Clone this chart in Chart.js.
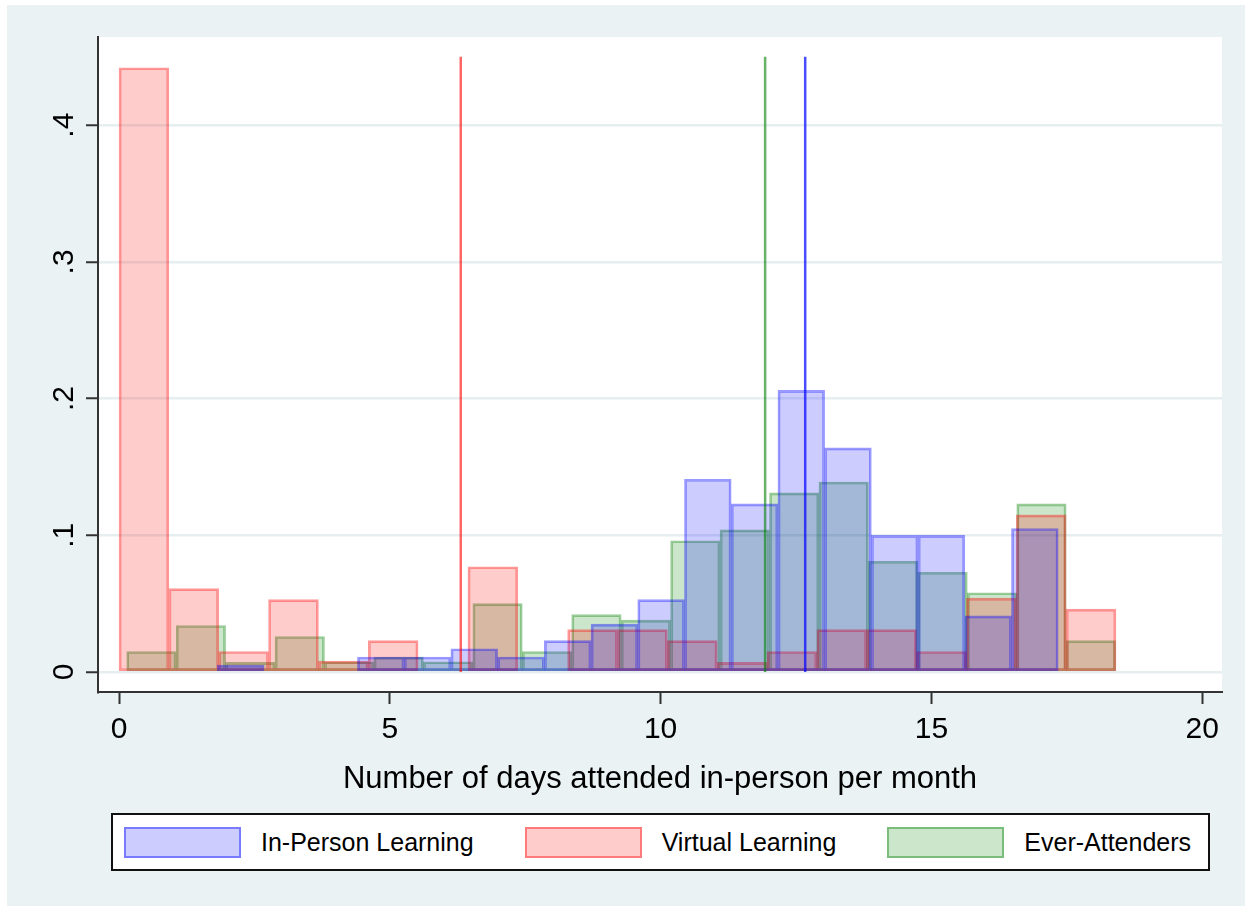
<!DOCTYPE html>
<html>
<head>
<meta charset="utf-8">
<script src="https://cdn.jsdelivr.net/npm/chart.js@4.4.1/dist/chart.umd.min.js"></script>
<style>
html,body{margin:0;padding:0;background:#fff;width:1252px;height:913px;overflow:hidden;font-family:"Liberation Sans",Arial,sans-serif;}
#bg{position:absolute;left:7px;top:5px;width:1238px;height:901px;background:#eaf2f3;}
#c{position:absolute;left:0;top:0;}
#legend{position:absolute;left:111px;top:813px;width:1084px;height:54px;padding-left:11px;border:2px solid #111;background:#fff;display:flex;align-items:center;}
.item{display:flex;align-items:center;margin-right:51px;}
.sw{width:113px;height:27px;border:2px solid;margin-right:20px;}
.lbl{font-size:25px;color:#000;white-space:nowrap;}
</style>
</head>
<body>
<div id="bg"></div>
<canvas id="c" width="1252" height="913"></canvas>
<div id="legend"></div>
<script>
// ---- data ----
const xTickLabels = ['0', '5', '10', '15', '20'];
const yTickLabels = ['0', '.1', '.2', '.3', '.4'];
const seriesLabels = ['In-Person Learning', 'Virtual Learning', 'Ever-Attenders'];
const xTitle = 'Number of days attended in-person per month';

// In-Person Learning histogram (bin start, bin width, densities)
const inPersonStart = 1.815;
const inPersonWidth = 0.8626;
const inPerson = [0.005, 0, 0, 0.011, 0.011, 0.017, 0.011, 0.023, 0.035, 0.053,
                  0.141, 0.123, 0.206, 0.164, 0.100, 0.100, 0.041, 0.105];

// Virtual Learning histogram
const virtualStart = 0;
const virtualWidth = 0.9204;
const virtual = [0.442, 0.061, 0.015, 0.053, 0.008, 0.023, 0, 0.077, 0, 0.031,
                 0.031, 0.023, 0.007, 0.015, 0.031, 0.031, 0.015, 0.054, 0.115, 0.046];

// Ever-Attenders histogram
const everStart = 0.142;
const everWidth = 0.913;
const ever = [0.015, 0.034, 0.007, 0.026, 0.0075, 0.011, 0.0075, 0.050, 0.015, 0.042,
              0.038, 0.096, 0.104, 0.131, 0.139, 0.081, 0.073, 0.058, 0.123, 0.023];

// Mean lines: in-person, virtual, ever-attenders
const meanValues = [12.67, 6.31, 11.93];
const meanLineTop = 0.45;

// ---- styles ----
const fills = ['rgba(0,0,255,0.2)', 'rgba(255,0,0,0.2)', 'rgba(0,128,0,0.2)'];
const edges = ['rgba(0,0,255,0.4)', 'rgba(255,0,0,0.4)', 'rgba(0,128,0,0.4)'];
const meanColors = ['rgba(0,0,255,0.7)', 'rgba(255,0,0,0.6)', 'rgba(0,128,0,0.6)'];

function binPoints(start, width, vals) {
  return vals.map((v, i) => ({ x: start + (i + 0.5) * width, y: v }));
}

const histSets = [
  { pts: binPoints(inPersonStart, inPersonWidth, inPerson), axis: 'xb' },
  { pts: binPoints(virtualStart, virtualWidth, virtual), axis: 'xr' },
  { pts: binPoints(everStart, everWidth, ever), axis: 'xg' }
];

const datasets = [];
meanValues.forEach((m, i) => {
  datasets.push({
    type: 'line',
    label: 'mean ' + seriesLabels[i],
    data: [{ x: m, y: 0 }, { x: m, y: meanLineTop }],
    borderColor: meanColors[i],
    borderWidth: 2.5,
    pointRadius: 0,
    xAxisID: 'x',
    yAxisID: 'y',
    order: 0
  });
});
histSets.forEach((h, i) => {
  datasets.push({
    type: 'bar',
    label: seriesLabels[i],
    data: h.pts,
    backgroundColor: fills[i],
    borderColor: edges[i],
    borderWidth: 2,
    borderSkipped: false,
    grouped: false,
    barPercentage: 1,
    categoryPercentage: 1,
    xAxisID: h.axis,
    yAxisID: 'y',
    order: 1
  });
});

const X_MIN = -0.388, X_MAX = 20.366;
const Y_MIN = -0.01463, Y_MAX = 0.46452;

function hiddenX() {
  return { type: 'linear', display: false, offset: false, grid: { offset: false },
           min: X_MIN, max: X_MAX,
           ticks: { stepSize: 5, includeBounds: false } };
}

const plotBg = {
  id: 'plotBg',
  beforeDraw(chart) {
    const { ctx, chartArea: a } = chart;
    ctx.save();
    ctx.fillStyle = '#ffffff';
    ctx.fillRect(a.left, a.top, a.right - a.left, a.bottom - a.top);
    ctx.restore();
  }
};

Chart.defaults.font.family = '"Liberation Sans", Arial, sans-serif';
Chart.defaults.color = '#000';

new Chart(document.getElementById('c'), {
  type: 'bar',
  data: { datasets },
  options: {
    responsive: false,
    animation: false,
    events: [],
    layout: { padding: { left: 0, top: 37, right: 30, bottom: 111 } },
    plugins: { legend: { display: false }, tooltip: { enabled: false } },
    scales: {
      x: {
        type: 'linear', position: 'bottom', min: X_MIN, max: X_MAX, offset: false,
        grid: { offset: false, drawOnChartArea: false, drawTicks: true, tickLength: 12, tickColor: '#333', tickWidth: 2 },
        border: { color: '#333', width: 2 },
        ticks: {
          stepSize: 5, includeBounds: false, padding: 8, maxRotation: 0,
          font: { size: 30 }, color: '#000',
          callback: (v) => { const i = Math.round(v / 5); return xTickLabels[i] !== undefined ? xTickLabels[i] : ''; }
        },
        title: { display: true, text: xTitle, font: { size: 31 }, color: '#000', padding: { top: 0, bottom: 4 } },
        afterFit: (s) => { s.height = 110; }
      },
      xb: hiddenX(),
      xr: hiddenX(),
      xg: hiddenX(),
      y: {
        type: 'linear', position: 'left', min: Y_MIN, max: Y_MAX,
        grid: { color: '#e6eef0', lineWidth: 2.5, tickColor: '#333', tickWidth: 2, tickLength: 12 },
        border: { color: '#333', width: 2 },
        ticks: {
          stepSize: 0.1, includeBounds: false, minRotation: 90, maxRotation: 90,
          crossAlign: 'center', padding: 9, font: { size: 30 }, color: '#000',
          callback: (v) => { const i = Math.round(v * 10); return yTickLabels[i] !== undefined ? yTickLabels[i] : ''; }
        },
        afterFit: (s) => { s.width = 98; }
      }
    }
  },
  plugins: [plotBg]
});

// HTML legend built from the series
const leg = document.getElementById('legend');
seriesLabels.forEach((lab, i) => {
  const it = document.createElement('div');
  it.className = 'item';
  const sw = document.createElement('div');
  sw.className = 'sw';
  sw.style.background = fills[i];
  sw.style.borderColor = edges[i];
  const tx = document.createElement('span');
  tx.className = 'lbl';
  tx.textContent = lab;
  it.appendChild(sw);
  it.appendChild(tx);
  leg.appendChild(it);
});
</script>
</body>
</html>
